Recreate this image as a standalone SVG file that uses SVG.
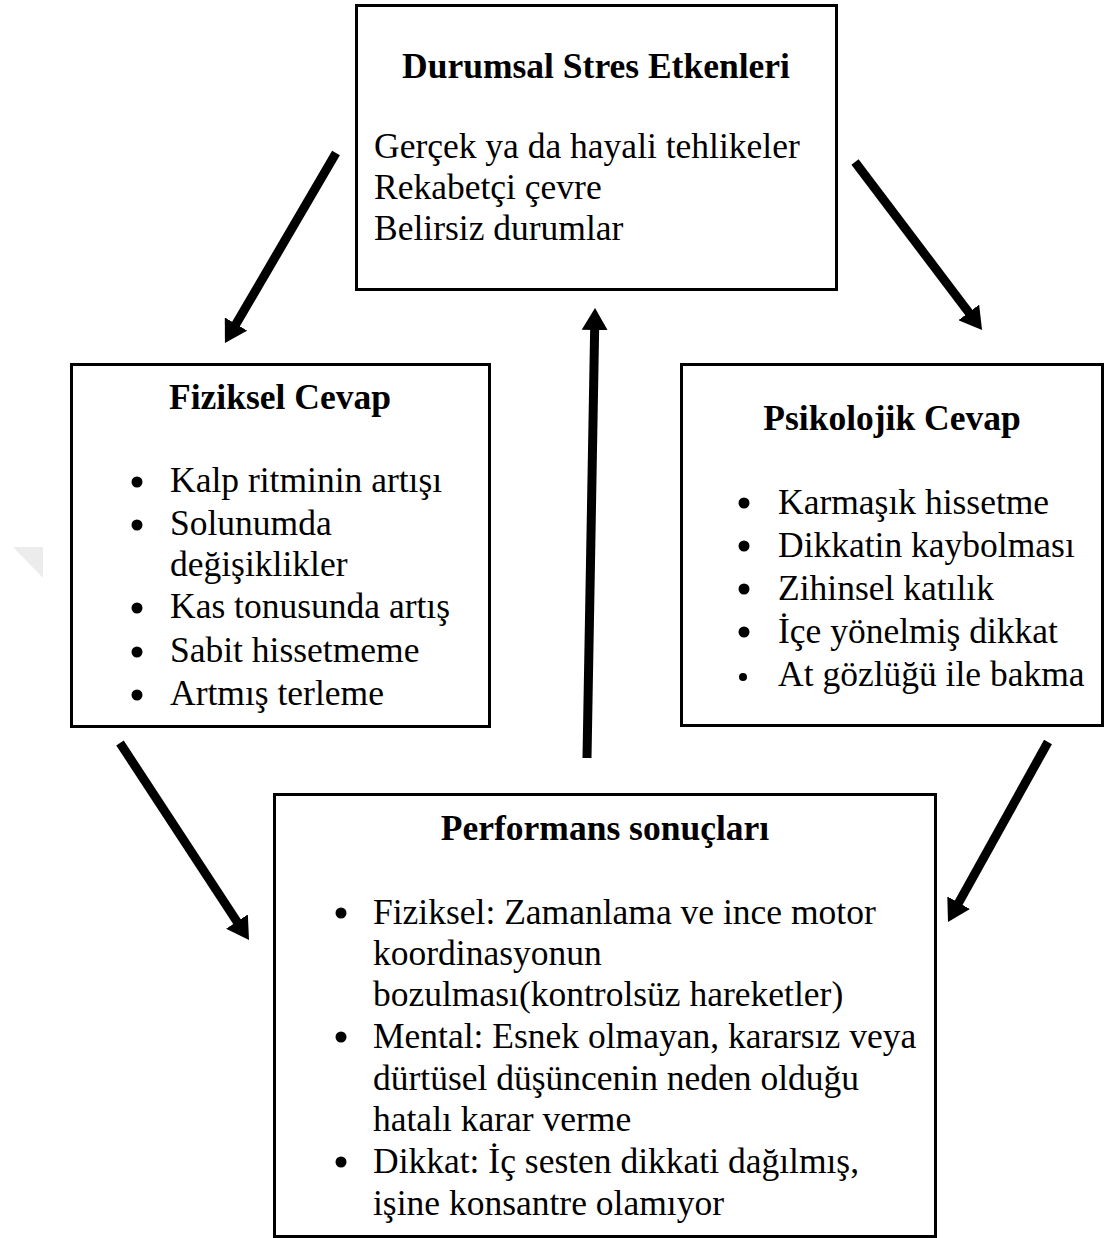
<svg xmlns="http://www.w3.org/2000/svg" width="1105" height="1238" viewBox="0 0 1105 1238">
  <style>
    .box { fill: #ffffff; stroke: #000000; stroke-width: 3; }
    .t { font-family: "Liberation Serif", "Times New Roman", serif; font-size: 35.5px; fill: #000000; }
    .title { font-weight: bold; text-anchor: middle; }
    .arrow { stroke: #000000; stroke-width: 9; fill: none; marker-end: url(#head); }
    .bul { fill: #000000; }
  </style>
  <defs>
    <marker id="head" markerUnits="userSpaceOnUse" markerWidth="23" markerHeight="26" viewBox="0 0 23 26" refX="9" refY="13" orient="auto">
      <path d="M0,0 L22,13 L0,26 z" fill="#000000"/>
    </marker>
  </defs>
  <rect width="1105" height="1238" fill="#ffffff"/>
  <polygon points="13,547 43,547 43,578" fill="#ececec"/>

  <g id="connectors">
    <line class="arrow" x1="336" y1="153" x2="231.5" y2="331.8"/>
    <line class="arrow" x1="855" y1="162" x2="974.2" y2="319.6"/>
    <line class="arrow" x1="587" y1="758" x2="594.8" y2="321"/>
    <line class="arrow" x1="120" y1="743" x2="241.9" y2="929.1"/>
    <line class="arrow" x1="1048" y1="742" x2="954.3" y2="910.6"/>
  </g>

  <g id="node-durumsal">
    <rect class="box" x="356.5" y="5.5" width="480" height="284"/>
    <text class="t title" x="596" y="78">Durumsal Stres Etkenleri</text>
    <text class="t" x="374" y="158">Gerçek ya da hayali tehlikeler</text>
    <text class="t" x="374" y="199">Rekabetçi çevre</text>
    <text class="t" x="374" y="240">Belirsiz durumlar</text>
  </g>

  <g id="node-fiziksel">
    <rect class="box" x="71.5" y="364.5" width="418" height="362"/>
    <text class="t title" x="280" y="409">Fiziksel Cevap</text>
    <circle class="bul" cx="137" cy="482" r="5.5"/>
    <text class="t" x="170" y="492">Kalp ritminin artışı</text>
    <circle class="bul" cx="137" cy="525" r="5.5"/>
    <text class="t" x="170" y="535">Solunumda</text>
    <text class="t" x="170" y="576">değişiklikler</text>
    <circle class="bul" cx="137" cy="608" r="5.5"/>
    <text class="t" x="170" y="618">Kas tonusunda artış</text>
    <circle class="bul" cx="137" cy="652" r="5.5"/>
    <text class="t" x="170" y="662">Sabit hissetmeme</text>
    <circle class="bul" cx="137" cy="695" r="5.5"/>
    <text class="t" x="170" y="705">Artmış terleme</text>
  </g>

  <g id="node-psikolojik">
    <rect class="box" x="681.5" y="364.5" width="421" height="361"/>
    <text class="t title" x="892" y="430">Psikolojik Cevap</text>
    <circle class="bul" cx="744" cy="503" r="5.5"/>
    <text class="t" x="778" y="514">Karmaşık hissetme</text>
    <circle class="bul" cx="744" cy="546" r="5.5"/>
    <text class="t" x="778" y="557">Dikkatin kaybolması</text>
    <circle class="bul" cx="744" cy="589" r="5.5"/>
    <text class="t" x="778" y="600">Zihinsel katılık</text>
    <circle class="bul" cx="744" cy="632" r="5.5"/>
    <text class="t" x="778" y="643">İçe yönelmiş dikkat</text>
    <circle class="bul" cx="743" cy="677" r="4"/>
    <text class="t" x="778" y="686">At gözlüğü ile bakma</text>
  </g>

  <g id="node-performans">
    <rect class="box" x="274.5" y="794.5" width="661" height="442"/>
    <text class="t title" x="605" y="840">Performans sonuçları</text>
    <circle class="bul" cx="341" cy="913" r="5.5"/>
    <text class="t" x="373" y="924">Fiziksel: Zamanlama ve ince motor</text>
    <text class="t" x="373" y="965">koordinasyonun</text>
    <text class="t" x="373" y="1006">bozulması(kontrolsüz hareketler)</text>
    <circle class="bul" cx="341" cy="1037" r="5.5"/>
    <text class="t" x="373" y="1048">Mental: Esnek olmayan, kararsız veya</text>
    <text class="t" x="373" y="1090">dürtüsel düşüncenin neden olduğu</text>
    <text class="t" x="373" y="1131">hatalı karar verme</text>
    <circle class="bul" cx="341" cy="1162" r="5.5"/>
    <text class="t" x="373" y="1173">Dikkat: İç sesten dikkati dağılmış,</text>
    <text class="t" x="373" y="1215">işine konsantre olamıyor</text>
  </g>
</svg>
